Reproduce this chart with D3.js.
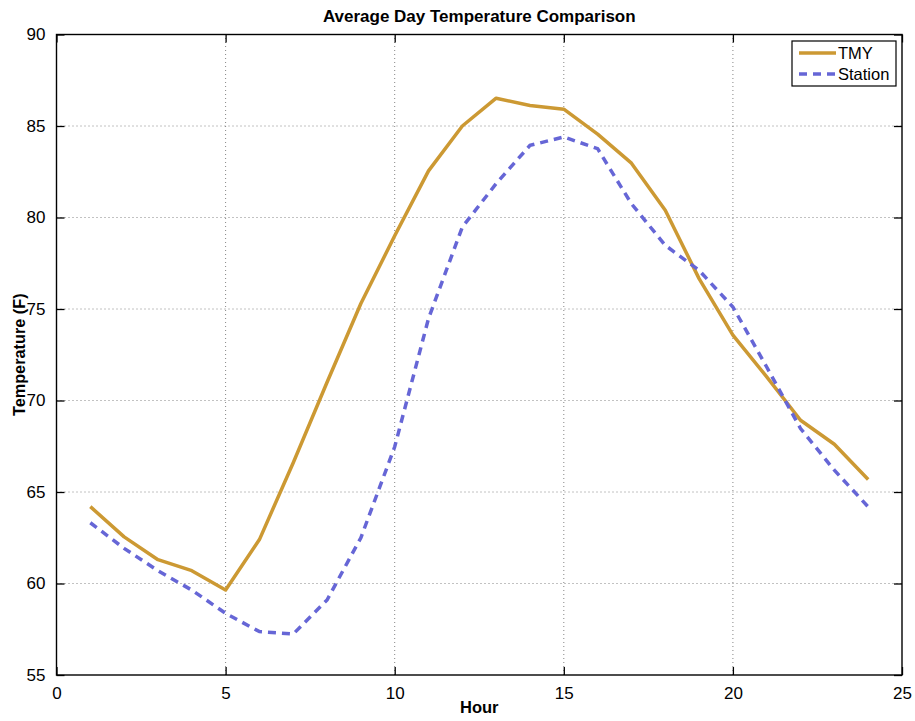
<!DOCTYPE html>
<html>
<head>
<meta charset="utf-8">
<script src="https://cdn.jsdelivr.net/npm/d3@7"></script>
<style>
  body { margin: 0; background: #fff; }
  svg { font-family: "Liberation Sans", Arial, sans-serif; }
</style>
</head>
<body>
<div id="chart"></div>
<script>
const hours = d3.range(1, 25);
const tmy = [64.2, 62.55, 61.3, 60.7, 59.65, 62.4, 66.6, 71.0, 75.3, 79.0, 82.55, 85.0,
  86.52, 86.12, 85.92, 84.56, 82.97, 80.4, 76.66, 73.57, 71.29, 68.92, 67.61, 65.68];
const station = [63.32, 61.92, 60.7, 59.64, 58.37, 57.37, 57.24, 59.1, 62.5, 67.47, 74.48, 79.48,
  81.85, 83.94, 84.4, 83.76, 80.75, 78.48, 77.11, 75.11, 71.83, 68.47, 66.19, 64.19];
const xTicks = [0, 5, 10, 15, 20, 25];
const yTicks = [55, 60, 65, 70, 75, 80, 85, 90];

const width = 915, height = 721;
const margin = { top: 34.5, right: 13, bottom: 46, left: 56.5 };

const svg = d3.select("#chart")
  .append("svg")
  .attr("width", width)
  .attr("height", height);

const x = d3.scaleLinear().domain([0, 25]).range([margin.left, width - margin.right]);
const y = d3.scaleLinear().domain([55, 90]).range([height - margin.bottom, margin.top]);

// dotted grid
svg.append("g")
  .selectAll("line")
  .data(xTicks.slice(1, -1))
  .join("line")
  .attr("x1", d => x(d)).attr("x2", d => x(d))
  .attr("y1", y(55)).attr("y2", y(90))
  .attr("stroke", "#666").attr("stroke-width", 0.8)
  .attr("stroke-dasharray", "1,3");

svg.append("g")
  .selectAll("line")
  .data(yTicks.slice(1, -1))
  .join("line")
  .attr("x1", x(0)).attr("x2", x(25))
  .attr("y1", d => y(d)).attr("y2", d => y(d))
  .attr("stroke", "#666").attr("stroke-width", 0.8)
  .attr("stroke-dasharray", "1,3");

// axes with inward ticks
const tickLen = 8;
svg.append("g")
  .attr("transform", `translate(0,${y(55)})`)
  .call(d3.axisBottom(x).tickValues(xTicks).tickSize(-tickLen).tickPadding(tickLen + 4))
  .call(g => g.select(".domain").remove());
svg.append("g")
  .attr("transform", `translate(0,${y(90)})`)
  .call(d3.axisTop(x).tickValues(xTicks).tickSize(-tickLen).tickFormat(""))
  .call(g => g.select(".domain").remove());
svg.append("g")
  .attr("transform", `translate(${x(0)},0)`)
  .call(d3.axisLeft(y).tickValues(yTicks).tickSize(-tickLen).tickPadding(tickLen + 3))
  .call(g => g.select(".domain").remove());
svg.append("g")
  .attr("transform", `translate(${x(25)},0)`)
  .call(d3.axisRight(y).tickValues(yTicks).tickSize(-tickLen).tickFormat(""))
  .call(g => g.select(".domain").remove());

svg.selectAll(".tick text")
  .attr("font-family", "Liberation Sans, Arial, sans-serif")
  .attr("font-size", 17)
  .attr("fill", "#000");
svg.selectAll(".tick line").attr("stroke", "#000").attr("stroke-width", 1.3);

// box
svg.append("rect")
  .attr("x", x(0)).attr("y", y(90))
  .attr("width", x(25) - x(0)).attr("height", y(55) - y(90))
  .attr("fill", "none").attr("stroke", "#000").attr("stroke-width", 1.4);

const line = d3.line()
  .x((d, i) => x(hours[i]))
  .y(d => y(d));

svg.append("path")
  .datum(tmy)
  .attr("d", line)
  .attr("fill", "none")
  .attr("stroke", "#CC9933")
  .attr("stroke-width", 3.5)
  .attr("stroke-linejoin", "round");

svg.append("path")
  .datum(station)
  .attr("d", line)
  .attr("fill", "none")
  .attr("stroke", "#6666D6")
  .attr("stroke-width", 3.5)
  .attr("stroke-dasharray", "8,6");

// title + labels
svg.append("text")
  .attr("x", (x(0) + x(25)) / 2).attr("y", 22)
  .attr("text-anchor", "middle")
  .attr("font-weight", "bold").attr("font-size", 17)
  .text("Average Day Temperature Comparison");

svg.append("text")
  .attr("x", (x(0) + x(25)) / 2).attr("y", 713)
  .attr("text-anchor", "middle")
  .attr("font-weight", "bold").attr("font-size", 16.5)
  .text("Hour");

svg.append("text")
  .attr("transform", `translate(25,${(y(55) + y(90)) / 2}) rotate(-90)`)
  .attr("text-anchor", "middle")
  .attr("font-weight", "bold").attr("font-size", 16.3)
  .text("Temperature (F)");

// legend
const legend = svg.append("g").attr("transform", "translate(792,41)");
legend.append("rect")
  .attr("width", 104).attr("height", 45)
  .attr("fill", "#fff").attr("stroke", "#000").attr("stroke-width", 1.2);
const items = [
  { name: "TMY", color: "#CC9933", dash: null },
  { name: "Station", color: "#6666D6", dash: "8,6" }
];
items.forEach((d, i) => {
  const yy = 12 + i * 21;
  legend.append("line")
    .attr("x1", 7).attr("x2", 44).attr("y1", yy).attr("y2", yy)
    .attr("stroke", d.color).attr("stroke-width", 3.5)
    .attr("stroke-dasharray", d.dash);
  legend.append("text")
    .attr("x", 46).attr("y", yy + 6)
    .attr("font-size", 16.5)
    .text(d.name);
});
</script>
</body>
</html>
